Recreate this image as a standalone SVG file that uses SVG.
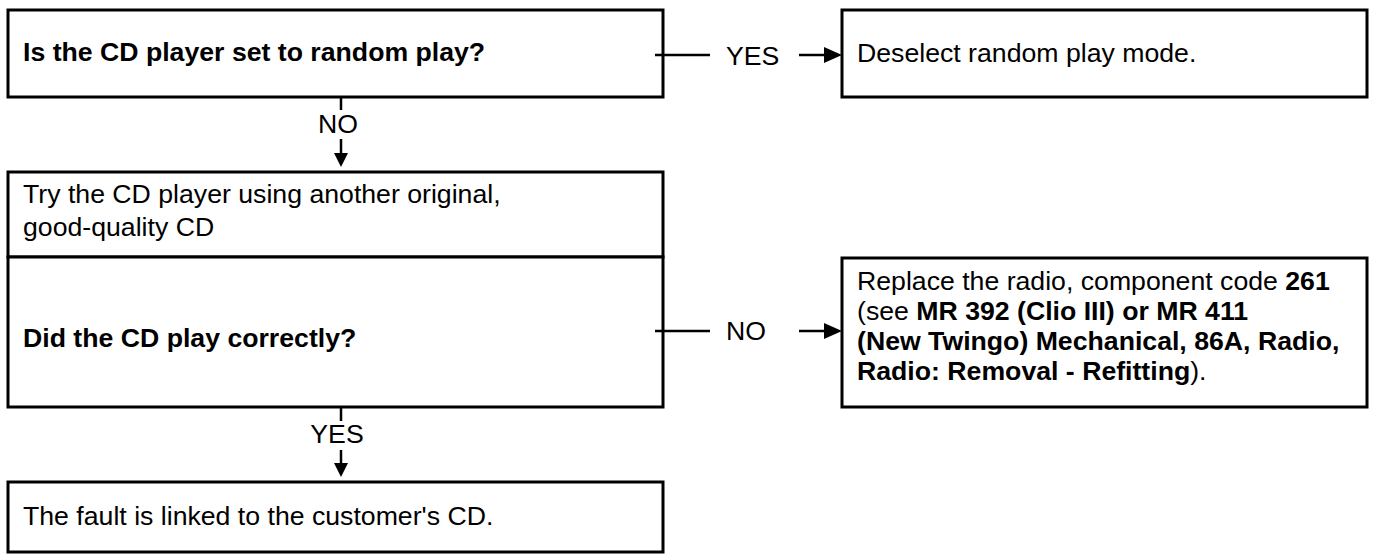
<svg xmlns="http://www.w3.org/2000/svg" width="1373" height="555" viewBox="0 0 1373 555">
<style>
.box{fill:#fff;stroke:#000;stroke-width:3}
.t{font-family:"Liberation Sans",Arial,sans-serif;font-size:26.67px;fill:#000}
.b{font-weight:bold}
.ln{stroke:#000;stroke-width:2.5;fill:none}
.ah{fill:#000}
</style>
<g id="n1"><rect class="box" x="8" y="10" width="655" height="87"/><text class="t b" x="23" y="61">Is the CD player set to random play?</text></g>
<g id="n2"><rect class="box" x="842" y="10" width="525" height="87"/><text class="t" x="857" y="62">Deselect random play mode.</text></g>
<g id="n3"><rect class="box" x="8" y="172" width="655" height="85"/><text class="t" x="23" y="203">Try the CD player using another original,</text><text class="t" x="23" y="236">good-quality CD</text></g>
<g id="n4"><rect class="box" x="8" y="257" width="655" height="150"/><text class="t b" x="23" y="347">Did the CD play correctly?</text></g>
<g id="n5"><rect class="box" x="842" y="258" width="525" height="149"/>
<text class="t" x="857" y="290">Replace the radio, component code <tspan class="b">261</tspan></text>
<text class="t" x="857" y="320">(see <tspan class="b">MR 392 (Clio III) or MR 411</tspan></text>
<text class="t b" x="857" y="350">(New Twingo) Mechanical, 86A, Radio,</text>
<text class="t" x="857" y="380"><tspan class="b">Radio: Removal - Refitting</tspan>).</text></g>
<g id="n6"><rect class="box" x="8" y="482" width="655" height="70"/><text class="t" x="23" y="525">The fault is linked to the customer's CD.</text></g>
<g id="connectors">
<line class="ln" x1="655" y1="55" x2="710" y2="55"/><text class="t" x="726" y="65">YES</text><line class="ln" x1="799" y1="55" x2="826" y2="55"/><polygon class="ah" points="824,47 842,55 824,63"/>
<line class="ln" x1="341" y1="97" x2="341" y2="110"/><text class="t" x="338" y="133" text-anchor="middle">NO</text><line class="ln" x1="341" y1="139" x2="341" y2="154"/><polygon class="ah" points="334,153 348,153 341,167"/>
<line class="ln" x1="655" y1="331" x2="710" y2="331"/><text class="t" x="726" y="340">NO</text><line class="ln" x1="799" y1="331" x2="826" y2="331"/><polygon class="ah" points="824,323 842,331 824,339"/>
<line class="ln" x1="341" y1="407" x2="341" y2="421"/><text class="t" x="337" y="443" text-anchor="middle">YES</text><line class="ln" x1="341" y1="450" x2="341" y2="464"/><polygon class="ah" points="334,463 348,463 341,477"/>
</g>
</svg>
